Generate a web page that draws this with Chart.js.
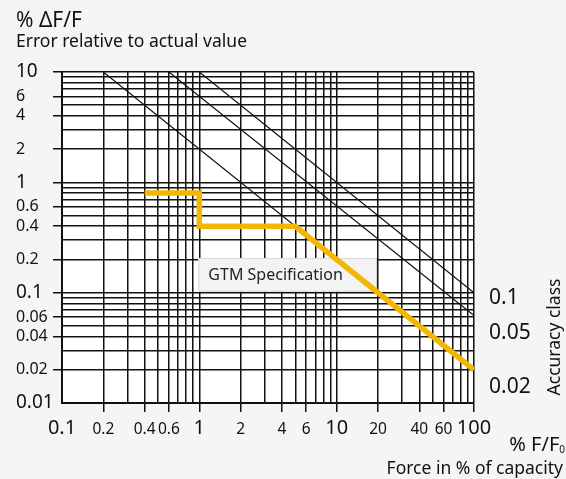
<!DOCTYPE html>
<html>
<head>
<meta charset="utf-8">
<script src="https://cdn.jsdelivr.net/npm/chart.js@4.4.1/dist/chart.umd.min.js"></script>
<style>
  html, body { margin: 0; padding: 0; background: #f5f5f5; }
  #wrap { width: 566px; height: 479px; }
</style>
</head>
<body>
<div id="wrap"><canvas id="gtmChart" width="566" height="479"></canvas></div>
<script>
// grid lines of the log-log paper
const forceGrid = [0.1, 0.2, 0.3, 0.4, 0.5, 0.6, 0.7, 0.8, 0.9,
  1, 2, 3, 4, 5, 6, 7, 8, 9,
  10, 20, 30, 40, 50, 60, 70, 80, 90, 100];
const errorGrid = [0.01, 0.02, 0.03, 0.04, 0.05, 0.06, 0.07, 0.08, 0.09,
  0.1, 0.2, 0.3, 0.4, 0.5, 0.6, 0.7, 0.8, 0.9,
  1, 2, 3, 4, 5, 6, 7, 8, 9, 10];

// tick labels
const forceLabels = [0.1, 0.2, 0.4, 0.6, 1, 2, 4, 6, 10, 20, 40, 60, 100];
const forceMajor = [0.1, 1, 10, 100];
const errorLabels = [10, 6, 4, 2, 1, 0.6, 0.4, 0.2, 0.1, 0.06, 0.04, 0.02, 0.01];
const errorMajor = [10, 1, 0.1, 0.01];

// GTM specification (yellow)
const gtmForce = [0.4, 1, 1, 5, 100];
const gtmError = [0.8, 0.8, 0.4, 0.4, 0.02];

// accuracy class lines
const class002Force = [0.2, 100];
const class002Error = [10, 0.02];
const class005Force = [0.6, 100];
const class005Error = [10, 0.062];
const class01Force = [1, 100];
const class01Error = [10, 0.1];

const classLabels = ['0.1', '0.05', '0.02'];

const FONT = "'Noto Sans', 'Open Sans', sans-serif";
const INK = '#111';

function inList(v, list) {
  return list.some(l => Math.abs(v - l) < l * 1e-6);
}
function pts(xs, ys) {
  return xs.map((x, i) => ({ x: x, y: ys[i] }));
}

const paperPlugin = {
  id: 'paper',
  beforeDraw(chart) {
    const { ctx, chartArea: a } = chart;
    ctx.save();
    ctx.fillStyle = '#f5f5f5';
    ctx.fillRect(0, 0, chart.width, chart.height);
    ctx.fillStyle = '#fff';
    ctx.fillRect(a.left, a.top, a.right - a.left, a.bottom - a.top);
    ctx.restore();
  },
  beforeDatasetsDraw(chart) {
    const { ctx, scales: { x, y } } = chart;
    const l = x.getPixelForValue(1) - 1;
    const r = x.getPixelForValue(20) - 1;
    const t = y.getPixelForValue(0.2) - 1.5;
    const b = y.getPixelForValue(0.1) - 1;
    ctx.save();
    ctx.fillStyle = '#f3f3f3';
    ctx.fillRect(l, t, r - l, b - t);
    ctx.strokeStyle = '#d8d8d8';
    ctx.lineWidth = 1;
    ctx.strokeRect(l + 0.5, t + 0.5, r - l - 1, b - t - 1);
    ctx.fillStyle = '#222';
    ctx.font = '16px ' + FONT;
    ctx.textBaseline = 'middle';
    ctx.fillText('GTM Specification', l + 10, (t + b) / 2 + 1);
    ctx.restore();
  },
  afterDraw(chart) {
    const { ctx } = chart;
    ctx.save();
    ctx.fillStyle = INK;
    ctx.textBaseline = 'alphabetic';

    // header
    ctx.font = '21px ' + FONT;
    ctx.fillText('% \u0394F/F', 16, 27);
    ctx.font = '17.5px ' + FONT;
    ctx.fillText('Error relative to actual value', 16, 47);

    // accuracy class values
    ctx.font = '21px ' + FONT;
    ctx.textBaseline = 'middle';
    const classY = [298, 333, 387];
    classLabels.forEach((s, i) => ctx.fillText(s, 489, classY[i]));

    // rotated label
    ctx.save();
    ctx.translate(555, 337);
    ctx.rotate(-Math.PI / 2);
    ctx.textAlign = 'center';
    ctx.font = '17.5px ' + FONT;
    ctx.fillText('Accuracy class', 0, 0);
    ctx.restore();

    // x axis title
    ctx.textBaseline = 'alphabetic';
    ctx.textAlign = 'right';
    ctx.font = '10px ' + FONT;
    ctx.fillText('0', 565, 453);
    const subW = ctx.measureText('0').width;
    ctx.font = '20px ' + FONT;
    ctx.fillText('% F/F', 565 - subW, 451);
    ctx.font = '17.5px ' + FONT;
    ctx.fillText('Force in % of capacity', 563, 474);
    ctx.restore();
  }
};

new Chart(document.getElementById('gtmChart'), {
  type: 'scatter',
  data: {
    datasets: [
      {
        label: 'GTM Specification',
        data: pts(gtmForce, gtmError),
        showLine: true,
        borderColor: '#f2b700',
        borderWidth: 5.5,
        pointRadius: 0,
        borderJoinStyle: 'miter',
        borderCapStyle: 'butt'
      },
      {
        label: '0.02',
        data: pts(class002Force, class002Error),
        showLine: true, borderColor: INK, borderWidth: 1.2, pointRadius: 0
      },
      {
        label: '0.05',
        data: pts(class005Force, class005Error),
        showLine: true, borderColor: INK, borderWidth: 1.2, pointRadius: 0
      },
      {
        label: '0.1',
        data: pts(class01Force, class01Error),
        showLine: true, borderColor: INK, borderWidth: 1.2, pointRadius: 0
      }
    ]
  },
  options: {
    responsive: false,
    animation: false,
    devicePixelRatio: 1,
    layout: { padding: { left: 16, top: 72, right: 92, bottom: 0 } },
    plugins: {
      legend: { display: false },
      tooltip: { enabled: false }
    },
    scales: {
      x: {
        type: 'logarithmic',
        position: 'bottom',
        min: 0.1,
        max: 100,
        afterBuildTicks: s => { s.ticks = forceGrid.map(v => ({ value: v })); },
        afterFit: s => { s.height = 76; },
        grid: {
          color: INK,
          lineWidth: 1.5,
          tickLength: 9,
          tickWidth: 1.5,
          tickColor: c => (inList(c.tick.value, forceLabels) && c.tick.value > 0.15) ? INK : 'rgba(0,0,0,0)'
        },
        border: { color: INK, width: 2 },
        ticks: {
          autoSkip: false,
          maxRotation: 0,
          minRotation: 0,
          padding: 5,
          color: INK,
          font: c => inList(c.tick.value, forceMajor)
            ? { family: FONT, size: 20, lineHeight: '22px' }
            : { family: FONT, size: 15.5, lineHeight: '26px' },
          callback: v => inList(v, forceLabels) ? String(v) : ''
        }
      },
      y: {
        type: 'logarithmic',
        position: 'left',
        min: 0.01,
        max: 10,
        afterBuildTicks: s => { s.ticks = errorGrid.map(v => ({ value: v })); },
        afterFit: s => { s.width = 46; },
        grid: {
          color: INK,
          lineWidth: 1.5,
          tickLength: 9,
          tickWidth: 1.5,
          tickColor: c => (inList(c.tick.value, errorLabels) && c.tick.value > 0.015) ? INK : 'rgba(0,0,0,0)'
        },
        border: { color: INK, width: 2 },
        ticks: {
          autoSkip: false,
          crossAlign: 'far',
          padding: 4,
          color: INK,
          font: c => inList(c.tick.value, errorMajor)
            ? { family: FONT, size: 19 }
            : { family: FONT, size: 16 },
          callback: v => inList(v, errorLabels) ? String(v) : ''
        }
      }
    }
  },
  plugins: [paperPlugin]
});
</script>
</body>
</html>
